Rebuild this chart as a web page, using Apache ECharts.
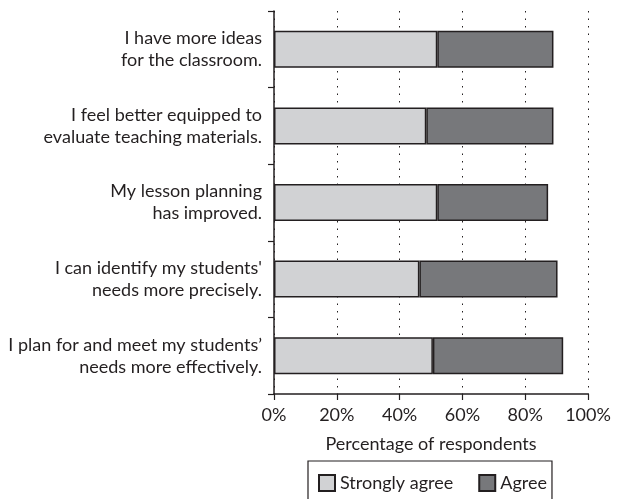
<!DOCTYPE html>
<html><head><meta charset="utf-8">
<script src="https://cdn.jsdelivr.net/npm/echarts@6/dist/echarts.min.js"></script>
<style>html,body{margin:0;padding:0;background:#fff}#c{width:621px;height:499px}</style>
</head><body><div id="c"></div>
<script>
const categories = [
  "I have more ideas\nfor the classroom.",
  "I feel better equipped to\nevaluate teaching materials.",
  "My lesson planning\nhas improved.",
  "I can identify my students'\nneeds more precisely.",
  "I plan for and meet my students\u2019\nneeds more effectively."
];
const stronglyAgree = [52, 48.5, 52, 46.3, 50.6];
const agree = [37, 40.5, 35.3, 44, 41.5];
const xTicks = [0, 20, 40, 60, 80, 100];

const FONT = 'Lato';
const chart = echarts.init(document.getElementById('c'), null, {renderer: 'canvas'});
chart.setOption({
  animation: false,
  textStyle: {fontFamily: FONT, color: '#231f20'},
  grid: {left: 274, right: 33, top: 11, bottom: 105, containLabel: false},
  xAxis: {
    type: 'value', min: xTicks[0], max: xTicks[xTicks.length - 1], interval: 20,
    name: 'Percentage of respondents', nameLocation: 'middle', nameGap: 41,
    nameTextStyle: {fontSize: 18, color: '#231f20', fontFamily: FONT},
    axisLine: {show: true, lineStyle: {color: '#231f20', width: 1.5}},
    axisTick: {show: true, length: 6, lineStyle: {color: '#231f20', width: 1.2}},
    axisLabel: {fontSize: 18, color: '#231f20', formatter: '{value}%', margin: 12, fontFamily: FONT},
    splitLine: {show: true, lineStyle: {type: [1.5, 6], color: '#231f20', width: 1}}
  },
  yAxis: {
    type: 'category', data: categories, inverse: true,
    axisLine: {show: true, lineStyle: {color: '#231f20', width: 1.5}},
    axisTick: {show: true, length: 6, lineStyle: {color: '#231f20', width: 1.2}},
    axisLabel: {fontSize: 18, color: '#231f20', lineHeight: 22, align: 'right', margin: 12, fontFamily: FONT},
    splitLine: {show: false}
  },
  legend: {
    top: 461, left: 308,
    data: ['Strongly agree', 'Agree'],
    itemWidth: 16, itemHeight: 16, itemGap: 25,
    borderColor: '#231f20', borderWidth: 1.2, padding: [13, 5, 20, 10],
    textStyle: {fontSize: 18, color: '#231f20', fontFamily: FONT},
    icon: 'rect'
  },
  series: [
    {name: 'Strongly agree', type: 'bar', stack: 'a', data: stronglyAgree, barWidth: 37,
     itemStyle: {color: '#d1d2d4', borderColor: '#231f20', borderWidth: 1.5}},
    {name: 'Agree', type: 'bar', stack: 'a', data: agree, barWidth: 37,
     itemStyle: {color: '#77787b', borderColor: '#231f20', borderWidth: 1.5}}
  ]
});
</script></body></html>
